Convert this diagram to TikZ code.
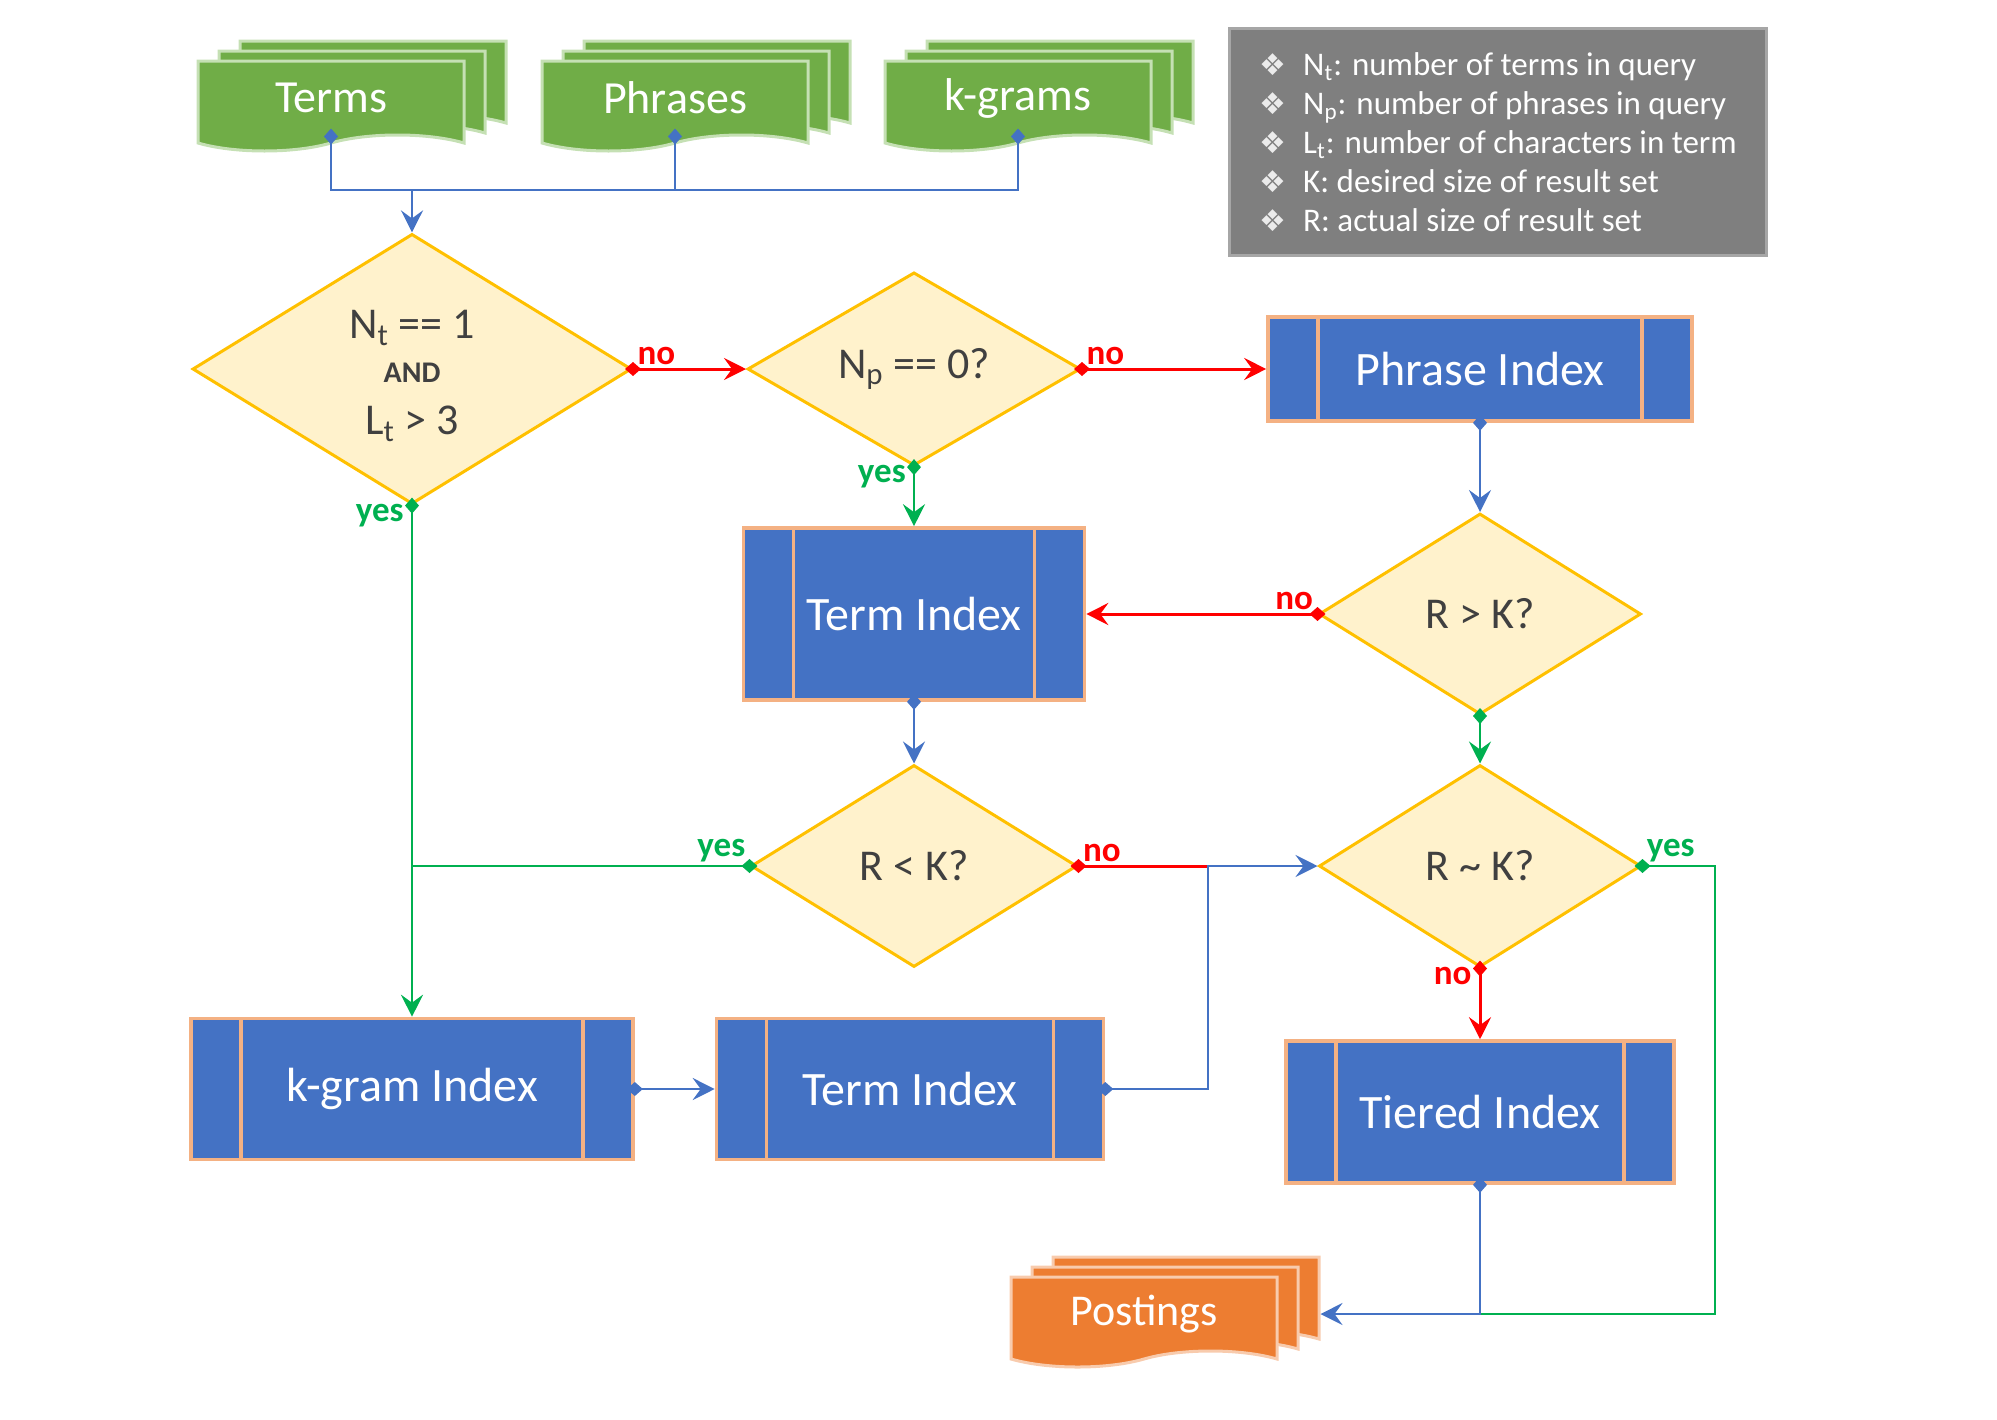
\documentclass[tikz,border=0pt]{standalone}
\usepackage{fontspec}
\setmainfont{Carlito}
\newfontfamily\dejavu{DejaVu Sans}
\usepackage{tikz}
\usetikzlibrary{shapes,arrows.meta,positioning,shadows}
\definecolor{boxblue}{HTML}{4472C4}
\definecolor{boxedge}{HTML}{F4B183}
\definecolor{decfill}{HTML}{FFF2CC}
\definecolor{decedge}{HTML}{FFC000}
\definecolor{dectext}{HTML}{404040}
\definecolor{docgreen}{HTML}{70AD47}
\definecolor{docedge}{HTML}{C5E0B4}
\definecolor{postorange}{HTML}{ED7D31}
\definecolor{postedge}{HTML}{F8CBAD}
\definecolor{keygray}{HTML}{7F7F7F}
\definecolor{keyedge}{HTML}{A6A6A6}
\definecolor{flowblue}{HTML}{4472C4}
\definecolor{flowred}{HTML}{FF0000}
\definecolor{flowgreen}{HTML}{00B050}
\newcommand{\keybullet}{\makebox[22pt][l]{\dejavu\fontsize{15}{15}\selectfont\color{white!92!black}❖}}
\tikzstyle{process} = [rectangle, draw=boxedge, fill=boxblue, line width=1.8pt,
    text=white, font=\fontsize{24}{28}\selectfont, inner sep=0pt,
    path picture={\draw[boxedge, line width=1.6pt]
      ([xshift=25pt]path picture bounding box.north west) -- ([xshift=25pt]path picture bounding box.south west)
      ([xshift=-25pt]path picture bounding box.north east) -- ([xshift=-25pt]path picture bounding box.south east);}]
\tikzstyle{decision} = [diamond, draw=decedge, fill=decfill, line width=1.5pt,
    text=dectext, font=\fontsize{22}{26}\selectfont, inner sep=0pt, align=center]
\tikzstyle{docs} = [tape, tape bend top=none, tape bend bottom=in and out, tape bend height=8pt,
    line width=1.5pt, text=white, font=\fontsize{23}{27}\selectfont,
    minimum width=133pt, minimum height=45pt]
\tikzstyle{greendocs} = [docs, draw=docedge, fill=docgreen,
    copy shadow={shadow xshift=21pt, shadow yshift=10pt, fill=docgreen, draw=docedge},
    copy shadow={shadow xshift=10.5pt, shadow yshift=5pt, fill=docgreen, draw=docedge}]
\tikzstyle{orangedocs} = [docs, draw=postedge, fill=postorange,
    copy shadow={shadow xshift=21pt, shadow yshift=10pt, fill=postorange, draw=postedge},
    copy shadow={shadow xshift=10.5pt, shadow yshift=5pt, fill=postorange, draw=postedge}]
\tikzstyle{legend} = [rectangle, draw=keyedge, fill=keygray, line width=1.5pt, text=white,
    font=\fontsize{16.5}{19.5}\selectfont, align=left, minimum width=268.5pt, minimum height=113.5pt]
\tikzstyle{blueline} = [draw=flowblue, line width=1.3pt]
\tikzstyle{redline} = [draw=flowred, line width=1.5pt]
\tikzstyle{greenline} = [draw=flowgreen, line width=1.3pt]
\tikzstyle{flow} = [{Diamond[length=8pt,width=7pt,sep=-4pt]}-{Stealth[length=11pt,width=11pt,inset=4pt]}]
\tikzstyle{link} = [{Diamond[length=8pt,width=7pt,sep=-4pt]}-]
\tikzstyle{tip} = [-{Stealth[length=11pt,width=11pt,inset=4pt]}]
\tikzstyle{yeslbl} = [text=flowgreen, font=\bfseries\fontsize{17.5}{20}\selectfont, inner sep=1.5pt]
\tikzstyle{nolbl} = [text=flowred, font=\bfseries\fontsize{17.5}{20}\selectfont, inner sep=1.5pt]

\begin{document}
\begin{tikzpicture}[x=0.5pt, y=-0.5pt]
  \useasboundingbox (0,0) rectangle (1997,1419);
  % Place inputs
  \node [greendocs] at (331,98) (terms) {Terms};
  \node [greendocs, right of=terms, node distance=172pt] (phrases) {Phrases};
  \node [greendocs, right of=phrases, node distance=171.5pt] (kgrams) {k-grams};
  \node [legend] at (1498,142) (key) {\keybullet N\textsubscript{t}: number of terms in query\\
    \keybullet N\textsubscript{p}: number of phrases in query\\
    \keybullet L\textsubscript{t}: number of characters in term\\
    \keybullet K: desired size of result set\\
    \keybullet R: actual size of result set};
  % Place decisions and indexes
  \node [decision, minimum width=219.5pt, minimum height=133.5pt] at (412,369) (d1)
    {\rule{0pt}{21pt}N\textsubscript{t} == 1\\[-4pt]{\bfseries\fontsize{15}{16}\selectfont AND}\\[0pt]L\textsubscript{t} > 3};
  \node [decision, minimum width=166.5pt, minimum height=86.5pt, right of=d1, node distance=251pt] (d2)
    {N\textsubscript{p} == 0?};
  \node [process, minimum width=212pt, minimum height=52pt, right of=d2, node distance=283pt] (phrase)
    {Phrase Index};
  \node [process, minimum width=170.5pt, minimum height=86pt, below of=d2, node distance=122.5pt] (termA)
    {Term Index};
  \node [decision, minimum width=161pt, minimum height=100.5pt, below of=phrase, node distance=122.5pt] (rgk)
    {R > K?};
  \node [decision, minimum width=163pt, minimum height=101pt, below of=termA, node distance=126pt] (rlk)
    {R < K?};
  \node [decision, minimum width=161pt, minimum height=101pt, below of=rgk, node distance=126pt] (rsk)
    {R \textasciitilde{} K?};
  \node [process, minimum width=221pt, minimum height=70.5pt] at (412,1089) (kgram) {k-gram Index};
  \node [process, minimum width=193.5pt, minimum height=70.5pt, right of=kgram, node distance=249pt] (termB)
    {Term Index};
  \node [process, minimum width=194pt, minimum height=71pt, below of=rsk, node distance=123pt] (tiered)
    {Tiered Index};
  \node [orangedocs, font=\fontsize{22}{26}\selectfont] at (1144,1314) (post) {Postings};
  % Draw edges
  \coordinate (merge) at (412,190);
  \draw[blueline, link] (terms.south) |- (merge);
  \draw[blueline, link] (phrases.south) -- (phrases.south |- merge);
  \draw[blueline, link] (kgrams.south) |- (merge);
  \draw[blueline, tip] (merge) -- (d1.north);
  \draw[redline, flow] (d1.east) -- node[pos=0, above right, nolbl] {no} (d2.west);
  \draw[redline, flow] (d2.east) -- node[pos=0, above right, nolbl] {no} (phrase.west);
  \draw[greenline, flow] (d2.south) -- node[pos=0, below left, xshift=-2pt, yshift=3pt, yeslbl] {yes} (termA.north);
  \draw[greenline, flow] (d1.south) -- node[pos=0, below left, xshift=-2pt, yshift=3pt, yeslbl] {yes} (kgram.north);
  \draw[blueline, flow] (phrase.south) -- (rgk.north);
  \draw[redline, flow] (rgk.west) -- node[pos=0, above left, nolbl] {no} (termA.east);
  \draw[greenline, flow] (rgk.south) -- (rsk.north);
  \draw[blueline, flow] (termA.south) -- (rlk.north);
  \draw[greenline, link] (rlk.west) -- node[pos=0, above left, yeslbl] {yes} (rlk.west -| kgram.north);
  \coordinate (join) at (1208,866);
  \draw[redline, link] (rlk.east) -- node[pos=0, above right, nolbl] {no} (join);
  \draw[blueline, flow] (termB.east) -| (join) -- (rsk.west);
  \draw[blueline, flow] (kgram.east) -- (termB.west);
  \draw[redline, flow] (rsk.south) -- node[pos=0, below left, xshift=-2pt, yshift=3pt, nolbl] {no} (tiered.north);
  \coordinate (gcorner) at (1715,1314);
  \draw[greenline, link] (rsk.east) -- node[pos=0, above right, yeslbl] {yes} (rsk.east -| gcorner)
    -- (gcorner) -- (tiered.south |- gcorner);
  \draw[blueline, flow] (tiered.south) |- ([xshift=21pt]post.east);
\end{tikzpicture}
\end{document}
